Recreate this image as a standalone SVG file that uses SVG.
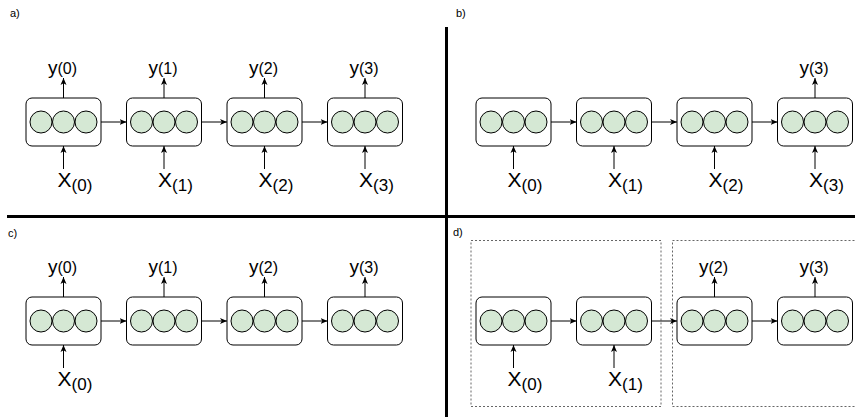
<svg xmlns="http://www.w3.org/2000/svg" width="855" height="417" viewBox="0 0 855 417">
<style>
.bg{fill:#ffffff}
.box{fill:#ffffff;stroke:#000000;stroke-width:1}
.c{fill:#d5e8d4;stroke:#000000;stroke-width:1}
.e{stroke:#000000;stroke-width:1;fill:none;marker-end:url(#ah)}
.div{stroke:#000000;stroke-width:3}
.grp{fill:none;stroke:#666666;stroke-width:1;stroke-dasharray:2 2}
.pl{font-family:"Liberation Sans",Arial,Helvetica,sans-serif;font-size:11px;fill:#000}
.yl{font-family:"Liberation Sans",Arial,Helvetica,sans-serif;font-size:19px;fill:#000}
.ys{font-size:16px}
.xl{font-family:"Liberation Sans",Arial,Helvetica,sans-serif;font-size:21px;fill:#000}
.xs{font-size:17px}
</style>
<defs>
<marker id="ah" markerUnits="userSpaceOnUse" markerWidth="8" markerHeight="8" refX="7" refY="4" orient="auto">
<path d="M0,1 L7,4 L0,7 L1.8,4 z" fill="#000"/>
</marker>
<g id="cell">
<rect class="box" x="0" y="0" width="75" height="48" rx="6" ry="6"/>
<circle class="c" cx="15" cy="24" r="11"/>
<circle class="c" cx="37.5" cy="24" r="11"/>
<circle class="c" cx="60" cy="24" r="11"/>
</g>
</defs>
<rect class="bg" x="0" y="0" width="855" height="417"/>

<g id="dividers">
<line class="div" x1="446.5" y1="27" x2="446.5" y2="417"/>
<line class="div" x1="7" y1="216.5" x2="855" y2="216.5"/>
</g>

<g id="panel-labels">
<text class="pl" x="10" y="17">a)</text>
<text class="pl" x="456" y="17">b)</text>
<text class="pl" x="8" y="237">c)</text>
<text class="pl" x="453" y="236">d)</text>
</g>

<g id="groups-d">
<rect id="d-group1" class="grp" x="471" y="240.5" width="190" height="166"/>
<rect id="d-group2" class="grp" x="672.5" y="240.5" width="190" height="166"/>
</g>

<!-- Panel a -->
<g id="a-n0"><use href="#cell" x="26" y="98"/></g>
<g id="a-n1"><use href="#cell" x="126.5" y="98"/></g>
<g id="a-n2"><use href="#cell" x="227" y="98"/></g>
<g id="a-n3"><use href="#cell" x="327.5" y="98"/></g>
<!-- Panel b -->
<g id="b-n0"><use href="#cell" x="476" y="98"/></g>
<g id="b-n1"><use href="#cell" x="576.5" y="98"/></g>
<g id="b-n2"><use href="#cell" x="677" y="98"/></g>
<g id="b-n3"><use href="#cell" x="777.5" y="98"/></g>
<!-- Panel c -->
<g id="c-n0"><use href="#cell" x="26" y="297"/></g>
<g id="c-n1"><use href="#cell" x="126.5" y="297"/></g>
<g id="c-n2"><use href="#cell" x="227" y="297"/></g>
<g id="c-n3"><use href="#cell" x="327.5" y="297"/></g>
<!-- Panel d -->
<g id="d-n0"><use href="#cell" x="476" y="297"/></g>
<g id="d-n1"><use href="#cell" x="576.5" y="297"/></g>
<g id="d-n2"><use href="#cell" x="677" y="297"/></g>
<g id="d-n3"><use href="#cell" x="777.5" y="297"/></g>

<g id="connectors">
<!-- a horizontal -->
<line class="e" x1="101" y1="122" x2="126.5" y2="122"/>
<line class="e" x1="201.5" y1="122" x2="227" y2="122"/>
<line class="e" x1="302" y1="122" x2="327.5" y2="122"/>
<!-- a up -->
<line class="e" x1="63.5" y1="98" x2="63.5" y2="78"/>
<line class="e" x1="164" y1="98" x2="164" y2="78"/>
<line class="e" x1="264.5" y1="98" x2="264.5" y2="78"/>
<line class="e" x1="365" y1="98" x2="365" y2="78"/>
<!-- a in -->
<line class="e" x1="63.5" y1="169" x2="63.5" y2="146"/>
<line class="e" x1="164" y1="169" x2="164" y2="146"/>
<line class="e" x1="264.5" y1="169" x2="264.5" y2="146"/>
<line class="e" x1="365" y1="169" x2="365" y2="146"/>
<!-- b horizontal -->
<line class="e" x1="551" y1="122" x2="576.5" y2="122"/>
<line class="e" x1="651.5" y1="122" x2="677" y2="122"/>
<line class="e" x1="752" y1="122" x2="777.5" y2="122"/>
<!-- b up -->
<line class="e" x1="815" y1="98" x2="815" y2="78"/>
<!-- b in -->
<line class="e" x1="513.5" y1="169" x2="513.5" y2="146"/>
<line class="e" x1="614" y1="169" x2="614" y2="146"/>
<line class="e" x1="714.5" y1="169" x2="714.5" y2="146"/>
<line class="e" x1="815" y1="169" x2="815" y2="146"/>
<!-- c horizontal -->
<line class="e" x1="101" y1="321" x2="126.5" y2="321"/>
<line class="e" x1="201.5" y1="321" x2="227" y2="321"/>
<line class="e" x1="302" y1="321" x2="327.5" y2="321"/>
<!-- c up -->
<line class="e" x1="63.5" y1="297" x2="63.5" y2="277"/>
<line class="e" x1="164" y1="297" x2="164" y2="277"/>
<line class="e" x1="264.5" y1="297" x2="264.5" y2="277"/>
<line class="e" x1="365" y1="297" x2="365" y2="277"/>
<!-- c in -->
<line class="e" x1="63.5" y1="368" x2="63.5" y2="345"/>
<!-- d horizontal -->
<line class="e" x1="551" y1="321" x2="576.5" y2="321"/>
<line class="e" x1="651.5" y1="321" x2="677" y2="321"/>
<line class="e" x1="752" y1="321" x2="777.5" y2="321"/>
<!-- d up -->
<line class="e" x1="714.5" y1="297" x2="714.5" y2="277"/>
<line class="e" x1="815" y1="297" x2="815" y2="277"/>
<!-- d in -->
<line class="e" x1="513.5" y1="368" x2="513.5" y2="345"/>
<line class="e" x1="614" y1="368" x2="614" y2="345"/>
</g>

<g id="labels">
<!-- a -->
<text class="yl" x="48" y="73.5">y<tspan class="ys">(0)</tspan></text>
<text class="yl" x="148.5" y="73.5">y<tspan class="ys">(1)</tspan></text>
<text class="yl" x="249" y="73.5">y<tspan class="ys">(2)</tspan></text>
<text class="yl" x="349.5" y="73.5">y<tspan class="ys">(3)</tspan></text>
<text class="xl" x="57.5" y="187">X<tspan class="xs" dy="4">(0)</tspan></text>
<text class="xl" x="158" y="187">X<tspan class="xs" dy="4">(1)</tspan></text>
<text class="xl" x="258.5" y="187">X<tspan class="xs" dy="4">(2)</tspan></text>
<text class="xl" x="359" y="187">X<tspan class="xs" dy="4">(3)</tspan></text>
<!-- b -->
<text class="yl" x="799.5" y="73.5">y<tspan class="ys">(3)</tspan></text>
<text class="xl" x="507.5" y="187">X<tspan class="xs" dy="4">(0)</tspan></text>
<text class="xl" x="608" y="187">X<tspan class="xs" dy="4">(1)</tspan></text>
<text class="xl" x="708.5" y="187">X<tspan class="xs" dy="4">(2)</tspan></text>
<text class="xl" x="809" y="187">X<tspan class="xs" dy="4">(3)</tspan></text>
<!-- c -->
<text class="yl" x="48" y="272.5">y<tspan class="ys">(0)</tspan></text>
<text class="yl" x="148.5" y="272.5">y<tspan class="ys">(1)</tspan></text>
<text class="yl" x="249" y="272.5">y<tspan class="ys">(2)</tspan></text>
<text class="yl" x="349.5" y="272.5">y<tspan class="ys">(3)</tspan></text>
<text class="xl" x="57.5" y="386">X<tspan class="xs" dy="4">(0)</tspan></text>
<!-- d -->
<text class="yl" x="699" y="272.5">y<tspan class="ys">(2)</tspan></text>
<text class="yl" x="799.5" y="272.5">y<tspan class="ys">(3)</tspan></text>
<text class="xl" x="507.5" y="386">X<tspan class="xs" dy="4">(0)</tspan></text>
<text class="xl" x="608" y="386">X<tspan class="xs" dy="4">(1)</tspan></text>
</g>
</svg>
